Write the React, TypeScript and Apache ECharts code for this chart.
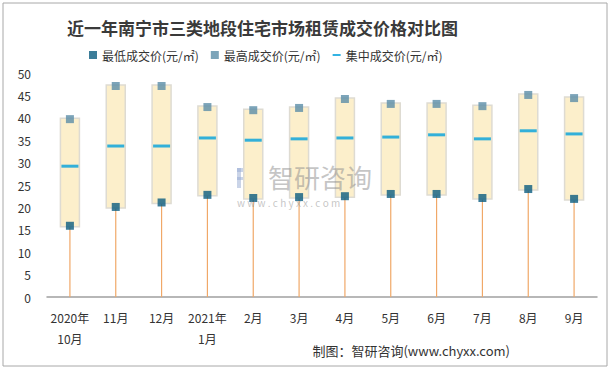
import React, { useEffect, useRef } from "react";
import * as echarts from "echarts";

const categories = ["2020年\n10月", "11月", "12月", "2021年\n1月", "2月", "3月", "4月", "5月", "6月", "7月", "8月", "9月"];
const minPrices = [15.9, 20.1, 21.1, 22.8, 22.1, 22.3, 22.5, 23.0, 23.0, 22.1, 24.1, 21.9];
const maxPrices = [39.7, 47.1, 47.1, 42.4, 41.7, 42.2, 44.2, 43.1, 43.1, 42.6, 45.1, 44.4];
const midPrices = [29.2, 33.7, 33.7, 35.5, 35.0, 35.3, 35.5, 35.7, 36.2, 35.3, 37.1, 36.4];
const yTicks = { min: 0, max: 50, interval: 5 };

const NAME_MIN = "最低成交价(元/㎡)";
const NAME_MAX = "最高成交价(元/㎡)";
const NAME_MID = "集中成交价(元/㎡)";

const FONT = "'Noto Sans CJK SC', 'Noto Sans', sans-serif";

export default function App() {
  const ref = useRef<HTMLDivElement>(null);
  useEffect(() => {
    document.body.style.margin = "0";
    const chart = echarts.init(ref.current!, null, { renderer: "svg" });
    const rangeData = categories.map((_, i) => [i, minPrices[i], maxPrices[i]]);
    const wm = "rgba(140,140,140,0.5)";
    chart.setOption({
      animation: false,
      backgroundColor: "#ffffff",
      textStyle: { fontFamily: FONT },
      title: {
        text: "近一年南宁市三类地段住宅市场租赁成交价格对比图",
        left: 62,
        top: 14,
        textStyle: { fontSize: 17, fontWeight: "bold", color: "#3a3a3a", fontFamily: FONT },
      },
      legend: {
        left: 84,
        top: 44,
        itemWidth: 8,
        itemHeight: 8,
        itemGap: 12,
        textStyle: { fontSize: 12, color: "#333", fontFamily: FONT },
        data: [
          { name: NAME_MIN, icon: "rect" },
          { name: NAME_MAX, icon: "rect" },
          { name: NAME_MID, icon: "path://M0,0H12V3H0Z" },
        ],
      },
      grid: { left: 47, right: 16, top: 73, bottom: 73, containLabel: false },
      xAxis: {
        type: "category",
        data: categories,
        axisLine: { lineStyle: { color: "#a0a0a0", width: 1.5 } },
        axisTick: { show: false },
        axisLabel: { fontSize: 12, color: "#333", margin: 10, lineHeight: 21, interval: 0 },
      },
      yAxis: {
        type: "value",
        min: yTicks.min,
        max: yTicks.max,
        interval: yTicks.interval,
        axisLine: { show: false },
        axisTick: { show: false },
        splitLine: { show: false },
        axisLabel: { fontSize: 12, color: "#333", margin: 16 },
      },
      graphic: [
        {
          type: "rect",
          shape: { x: 3, y: 3, width: 604, height: 363 },
          style: { fill: "none", stroke: "#a8a8a8", lineWidth: 1 },
          z: 0,
        },
        {
          type: "group",
          left: 237,
          top: 166,
          z: 10,
          children: [
            { type: "rect", shape: { x: 0, y: 2, width: 14, height: 4 }, style: { fill: "rgba(150,170,210,0.5)" } },
            { type: "rect", shape: { x: 0, y: 2, width: 4, height: 20 }, style: { fill: "rgba(150,170,210,0.5)" } },
            { type: "rect", shape: { x: 0, y: 11, width: 14, height: 3 }, style: { fill: "rgba(150,170,210,0.5)" } },
            { type: "rect", shape: { x: 12, y: 6, width: 13, height: 3 }, style: { fill: "rgba(150,195,175,0.5)" } },
            { type: "rect", shape: { x: 12, y: 19, width: 13, height: 3 }, style: { fill: "rgba(150,195,175,0.5)" } },
            { type: "rect", shape: { x: 21, y: 0, width: 4, height: 4 }, style: { fill: "rgba(150,170,210,0.5)" } },
          ],
        },
        {
          type: "text",
          left: 268,
          top: 163,
          z: 10,
          style: { text: "智研咨询", fontSize: 26, lineHeight: 26, fill: wm, fontFamily: FONT },
        },
        {
          type: "text",
          left: 237,
          top: 197,
          z: 10,
          style: { text: "w w w . c h y x x . c o m", fontSize: 10, lineHeight: 10, fill: wm, fontFamily: FONT },
        },
        {
          type: "text",
          right: 103,
          top: 344,
          style: { text: "制图：智研咨询(www.chyxx.com)", fontSize: 13, fill: "#333", fontFamily: FONT },
        },
      ],
      series: [
        {
          type: "custom",
          name: "range",
          data: rangeData,
          encode: { x: 0, y: [1, 2] },
          z: 1,
          renderItem: (params: any, api: any) => {
            const x = api.value(0);
            const lo = api.value(1);
            const hi = api.value(2);
            const p0 = api.coord([x, 0]);
            const pl = api.coord([x, lo]);
            const ph = api.coord([x, hi]);
            const w = 19;
            return {
              type: "group",
              children: [
                {
                  type: "line",
                  shape: { x1: p0[0], y1: p0[1], x2: pl[0], y2: pl[1] },
                  style: { stroke: "#f0a868", lineWidth: 1.2 },
                },
                {
                  type: "rect",
                  shape: { x: ph[0] - w / 2, y: ph[1] - 1, width: w, height: pl[1] - ph[1] + 2 },
                  style: { fill: "#fcefcb", stroke: "#dedbd2", lineWidth: 1.5 },
                },
              ],
            };
          },
        },
        {
          type: "scatter",
          name: NAME_MIN,
          data: minPrices,
          symbol: "rect",
          symbolSize: 8,
          itemStyle: { color: "#0b5d80" },
          z: 3,
        },
        {
          type: "scatter",
          name: NAME_MAX,
          data: maxPrices,
          symbol: "rect",
          symbolSize: 8,
          itemStyle: { color: "#5b8da8" },
          z: 3,
        },
        {
          type: "scatter",
          name: NAME_MID,
          data: midPrices,
          symbol: "rect",
          symbolSize: [17, 3],
          symbolKeepAspect: true,
          itemStyle: { color: "#00a0dc" },
          z: 3,
        },
      ],
    });
    return () => chart.dispose();
  }, []);
  return <div ref={ref} style={{ width: 613, height: 370 }} />;
}
